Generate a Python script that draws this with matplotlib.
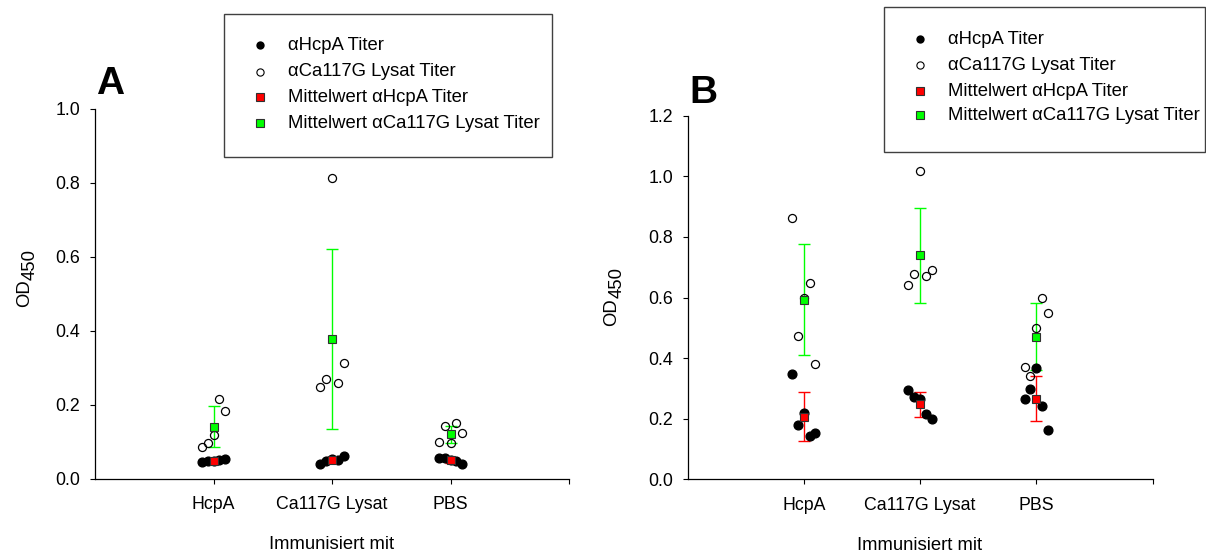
import numpy as np
import matplotlib.pyplot as plt
from matplotlib.patches import Rectangle
from matplotlib.lines import Line2D

plt.rcParams['font.family'] = ['Liberation Sans', 'DejaVu Sans']

# Gruppen auf der x-Achse
gruppen = ['HcpA', 'Ca117G Lysat', 'PBS']

# Teil A: Einzelwerte (je 5 Tiere pro Gruppe)
a_hcpa_titer = [[0.045, 0.047, 0.047, 0.050, 0.053],
                [0.039, 0.047, 0.053, 0.050, 0.061],
                [0.055, 0.055, 0.050, 0.048, 0.039]]
a_lysat_titer = [[0.085, 0.096, 0.118, 0.215, 0.182],
                 [0.247, 0.269, 0.813, 0.258, 0.312],
                 [0.099, 0.143, 0.097, 0.149, 0.124]]
a_mittel_hcpa = [0.048, 0.050, 0.049]
a_sd_hcpa = [0.004, 0.008, 0.007]
a_mittel_lysat = [0.140, 0.377, 0.120]
a_sd_lysat = [0.056, 0.243, 0.023]

# Teil B
b_hcpa_titer = [[0.347, 0.180, 0.220, 0.143, 0.152],
                [0.295, 0.273, 0.266, 0.214, 0.199],
                [0.264, 0.298, 0.368, 0.242, 0.164]]
b_lysat_titer = [[0.861, 0.473, 0.598, 0.648, 0.380],
                 [0.641, 0.679, 1.016, 0.672, 0.690],
                 [0.372, 0.340, 0.500, 0.599, 0.549]]
b_mittel_hcpa = [0.207, 0.248, 0.266]
b_sd_hcpa = [0.082, 0.041, 0.074]
b_mittel_lysat = [0.592, 0.739, 0.471]
b_sd_lysat = [0.183, 0.156, 0.111]

legenden_text = ['\u03b1HcpA Titer', '\u03b1Ca117G Lysat Titer',
                 'Mittelwert \u03b1HcpA Titer', 'Mittelwert \u03b1Ca117G Lysat Titer']

W, H = 1206, 557
fig = plt.figure(figsize=(W / 100, H / 100), dpi=100)

versatz = np.array([-0.1, -0.05, 0.0, 0.05, 0.1])  # seitliche Streuung der Punkte
gruen = '#00ff00'
rot = '#ff0000'


def px(x, y):
    # Pixel -> Figurkoordinaten
    return x / W, 1 - y / H


def teil(pos, hcpa, lysat, m_hcpa, s_hcpa, m_lysat, s_lysat, ymax, buchstabe, bpos, odpos):
    ax = fig.add_axes(pos)
    x = np.arange(1, len(gruppen) + 1)
    ax.errorbar(x, m_lysat, yerr=s_lysat, fmt='none', ecolor=gruen, elinewidth=1,
                capsize=4, capthick=1, zorder=2)
    ax.errorbar(x, m_hcpa, yerr=s_hcpa, fmt='none', ecolor=rot, elinewidth=1,
                capsize=4, capthick=1, zorder=2)
    for i in range(len(gruppen)):
        ax.plot(x[i] + versatz, lysat[i], 'o', mfc='none', mec='black', ms=5.8, mew=0.9, zorder=3)
        ax.plot(x[i] + versatz, hcpa[i], 'o', color='black', ms=6.3, zorder=3)
    ax.plot(x, m_lysat, 's', mfc=gruen, mec='#303030', ms=5.5, mew=0.8, zorder=4)
    ax.plot(x, m_hcpa, 's', mfc=rot, mec='#303030', ms=5.5, mew=0.8, zorder=4)

    ax.set_xlim(0, 4)
    ax.set_ylim(0, ymax)
    ax.set_xticks([1, 2, 3, 4], gruppen + [''])
    ax.set_yticks(np.arange(0, ymax + 0.01, 0.2))
    ax.yaxis.set_major_formatter(plt.FormatStrFormatter('%.1f'))
    ax.tick_params(labelsize=12.8, length=3.5, width=0.8, direction='out')
    ax.tick_params(axis='x', pad=9)
    ax.tick_params(axis='y', pad=7)
    for s in ['top', 'right']:
        ax.spines[s].set_visible(False)
    for s in ['left', 'bottom']:
        ax.spines[s].set_linewidth(0.9)
    ax.set_xlabel('Immunisiert mit', fontsize=13.3, labelpad=17)

    # y-Achsenbeschriftung OD450 mit grossem Index
    fig.text(*px(odpos[0], odpos[1]), 'OD', rotation=90, fontsize=13.3, ha='center', va='center')
    fig.text(*px(odpos[0] + 5, odpos[1] - 29), '450', rotation=90, fontsize=13.3, ha='center', va='center')

    fig.text(*px(*bpos), buchstabe, fontsize=28, fontweight='bold', ha='left', va='baseline')
    return ax


def legende(box, zeilen_y, marker_x, text_x):
    x0, y0, x1, y1 = box
    fig.patches.append(Rectangle(px(x0, y1), (x1 - x0) / W, (y1 - y0) / H, transform=fig.transFigure,
                                 fill=False, edgecolor='#404040', linewidth=1))
    stile = [dict(marker='o', color='black', ms=6, mew=0),
             dict(marker='o', mfc='white', mec='black', ms=5.2, mew=0.8),
             dict(marker='s', mfc=rot, mec='#303030', ms=5.2, mew=0.8),
             dict(marker='s', mfc=gruen, mec='#303030', ms=5.2, mew=0.8)]
    for y, txt, st in zip(zeilen_y, legenden_text, stile):
        mx, my = px(marker_x, y)
        fig.add_artist(Line2D([mx], [my], linestyle='none', transform=fig.transFigure, **st))
        fig.text(*px(text_x, y), txt, fontsize=13.3, ha='left', va='center')


teil([95 / W, 1 - 478.5 / H, 474 / W, 370 / H], a_hcpa_titer, a_lysat_titer,
     a_mittel_hcpa, a_sd_hcpa, a_mittel_lysat, a_sd_lysat, 1.0, 'A', (96, 94), (25, 293))
teil([687.5 / W, 1 - 479.3 / H, 465 / W, 363.6 / H], b_hcpa_titer, b_lysat_titer,
     b_mittel_hcpa, b_sd_hcpa, b_mittel_lysat, b_sd_lysat, 1.2, 'B', (689, 103), (612, 312))

legende((224, 14, 552, 157), [45, 71.5, 97, 123], 260, 288)
legende((884, 7, 1205, 152), [39, 65, 91, 115], 920, 948)

fig.savefig('out.png', dpi=100)
